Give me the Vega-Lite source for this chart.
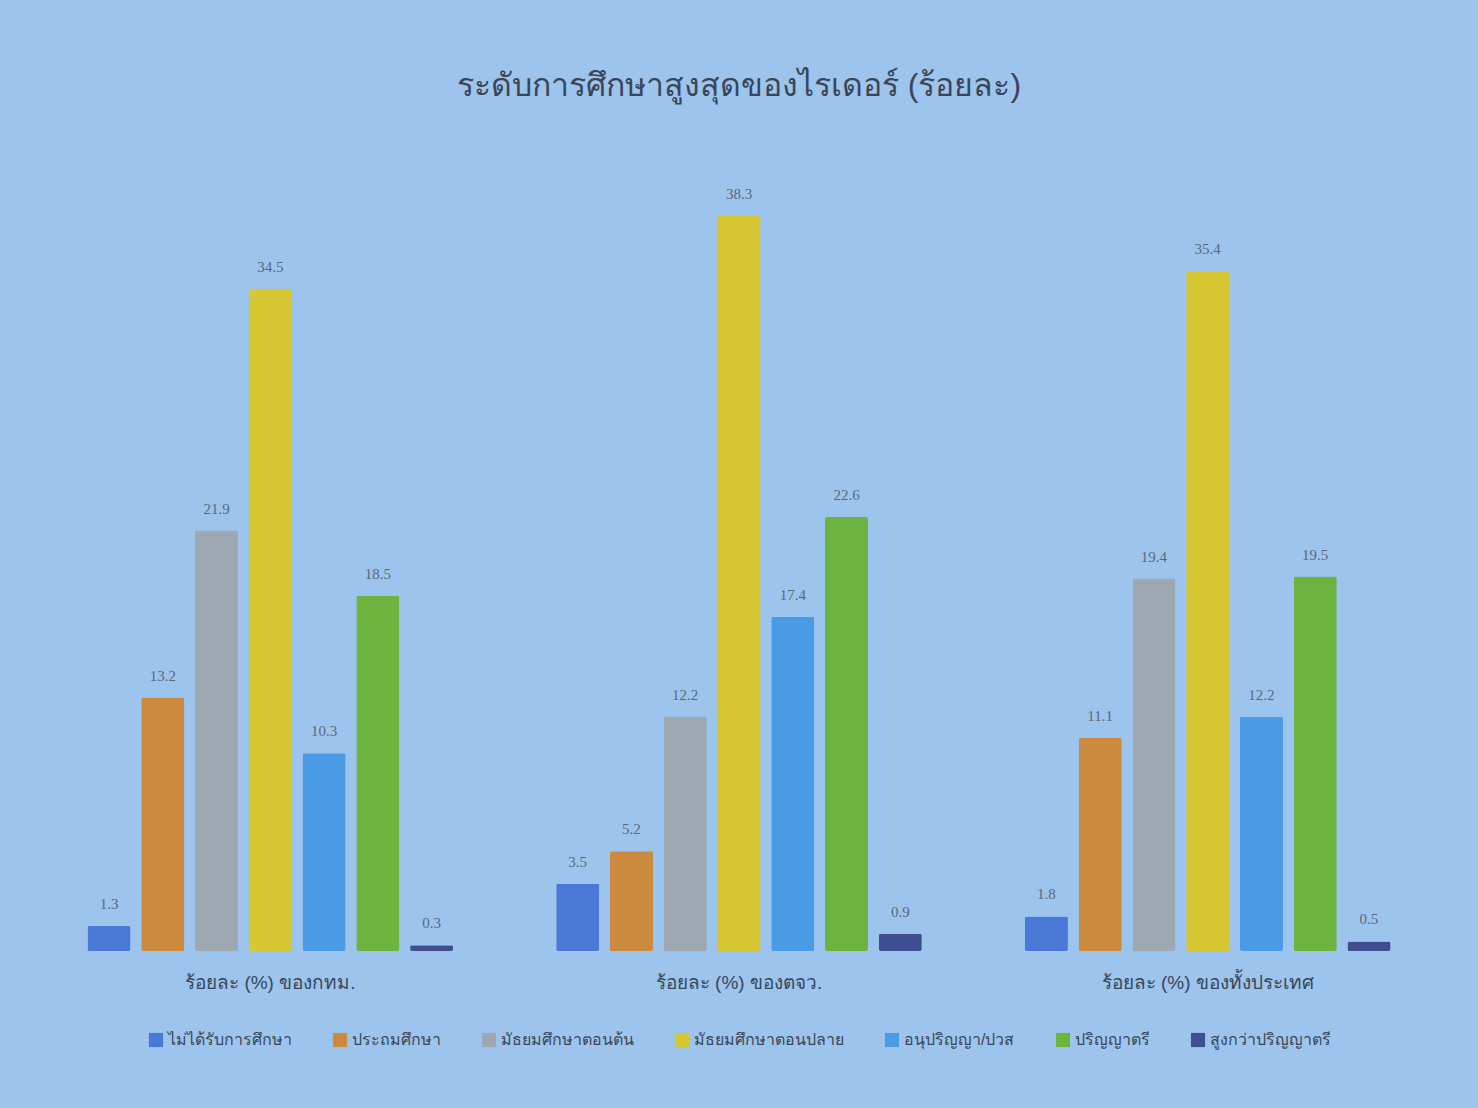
{
  "$schema": "https://vega.github.io/schema/vega-lite/v6.json",
  "width": 1478,
  "height": 1108,
  "autosize": {"type": "fit", "contains": "padding"},
  "background": "#9cc4ec",
  "padding": {"left": 50, "right": 50, "top": 70, "bottom": 60},
  "title": {
    "text": "ระดับการศึกษาสูงสุดของไรเดอร์ (ร้อยละ)",
    "fontSize": 32,
    "fontWeight": "normal",
    "color": "#3a4658",
    "offset": 80
  },
  "config": {
    "view": {"stroke": null},
    "legend": {"layout": {"bottom": {"anchor": "middle"}}}
  },
  "data": {
    "values": [
      {"area": "ร้อยละ (%) ของกทม.", "level": "ไม่ได้รับการศึกษา", "value": 1.3},
      {"area": "ร้อยละ (%) ของกทม.", "level": "ประถมศึกษา", "value": 13.2},
      {"area": "ร้อยละ (%) ของกทม.", "level": "มัธยมศึกษาตอนต้น", "value": 21.9},
      {"area": "ร้อยละ (%) ของกทม.", "level": "มัธยมศึกษาตอนปลาย", "value": 34.5},
      {"area": "ร้อยละ (%) ของกทม.", "level": "อนุปริญญา/ปวส", "value": 10.3},
      {"area": "ร้อยละ (%) ของกทม.", "level": "ปริญญาตรี", "value": 18.5},
      {"area": "ร้อยละ (%) ของกทม.", "level": "สูงกว่าปริญญาตรี", "value": 0.3},
      {"area": "ร้อยละ (%) ของตจว.", "level": "ไม่ได้รับการศึกษา", "value": 3.5},
      {"area": "ร้อยละ (%) ของตจว.", "level": "ประถมศึกษา", "value": 5.2},
      {"area": "ร้อยละ (%) ของตจว.", "level": "มัธยมศึกษาตอนต้น", "value": 12.2},
      {"area": "ร้อยละ (%) ของตจว.", "level": "มัธยมศึกษาตอนปลาย", "value": 38.3},
      {"area": "ร้อยละ (%) ของตจว.", "level": "อนุปริญญา/ปวส", "value": 17.4},
      {"area": "ร้อยละ (%) ของตจว.", "level": "ปริญญาตรี", "value": 22.6},
      {"area": "ร้อยละ (%) ของตจว.", "level": "สูงกว่าปริญญาตรี", "value": 0.9},
      {"area": "ร้อยละ (%) ของทั้งประเทศ", "level": "ไม่ได้รับการศึกษา", "value": 1.8},
      {"area": "ร้อยละ (%) ของทั้งประเทศ", "level": "ประถมศึกษา", "value": 11.1},
      {"area": "ร้อยละ (%) ของทั้งประเทศ", "level": "มัธยมศึกษาตอนต้น", "value": 19.4},
      {"area": "ร้อยละ (%) ของทั้งประเทศ", "level": "มัธยมศึกษาตอนปลาย", "value": 35.4},
      {"area": "ร้อยละ (%) ของทั้งประเทศ", "level": "อนุปริญญา/ปวส", "value": 12.2},
      {"area": "ร้อยละ (%) ของทั้งประเทศ", "level": "ปริญญาตรี", "value": 19.5},
      {"area": "ร้อยละ (%) ของทั้งประเทศ", "level": "สูงกว่าปริญญาตรี", "value": 0.5}
    ]
  },
  "encoding": {
    "x": {
      "field": "area",
      "type": "nominal",
      "sort": ["ร้อยละ (%) ของกทม.", "ร้อยละ (%) ของตจว.", "ร้อยละ (%) ของทั้งประเทศ"],
      "scale": {"paddingInner": 0.22, "paddingOuter": 0.08},
      "axis": {
        "title": null,
        "labelAngle": 0,
        "domain": false,
        "ticks": false,
        "labelFontSize": 19,
        "labelPadding": 22,
        "labelLimit": 0,
        "labelColor": "#3a4658"
      }
    },
    "xOffset": {
      "field": "level",
      "type": "nominal",
      "sort": ["ไม่ได้รับการศึกษา", "ประถมศึกษา", "มัธยมศึกษาตอนต้น", "มัธยมศึกษาตอนปลาย", "อนุปริญญา/ปวส", "ปริญญาตรี", "สูงกว่าปริญญาตรี"],
      "scale": {"paddingInner": 0.2}
    },
    "y": {
      "field": "value",
      "type": "quantitative",
      "axis": null,
      "scale": {"domain": [0, 40]}
    }
  },
  "layer": [
    {
      "mark": {"type": "bar", "cornerRadius": 2},
      "encoding": {
        "color": {
          "field": "level",
          "type": "nominal",
          "sort": ["ไม่ได้รับการศึกษา", "ประถมศึกษา", "มัธยมศึกษาตอนต้น", "มัธยมศึกษาตอนปลาย", "อนุปริญญา/ปวส", "ปริญญาตรี", "สูงกว่าปริญญาตรี"],
          "scale": {
            "domain": ["ไม่ได้รับการศึกษา", "ประถมศึกษา", "มัธยมศึกษาตอนต้น", "มัธยมศึกษาตอนปลาย", "อนุปริญญา/ปวส", "ปริญญาตรี", "สูงกว่าปริญญาตรี"],
            "range": ["#4a78d6", "#cc8a3e", "#9ea8b2", "#d6c631", "#4a9be6", "#6db340", "#3e4e8e"]
          },
          "legend": {
            "title": null,
            "orient": "bottom",
            "direction": "horizontal",
            "symbolType": "square",
            "symbolSize": 200,
            "symbolStrokeWidth": 0,
            "labelFontSize": 16,
            "labelColor": "#3a4658",
            "labelLimit": 0,
            "columnPadding": 40,
            "offset": 40
          }
        }
      }
    },
    {
      "mark": {"type": "text", "dy": -22, "fontSize": 15, "color": "#5c6878", "font": "Liberation Serif"},
      "encoding": {
        "text": {"field": "value", "type": "quantitative", "format": ".1f"}
      }
    }
  ]
}
